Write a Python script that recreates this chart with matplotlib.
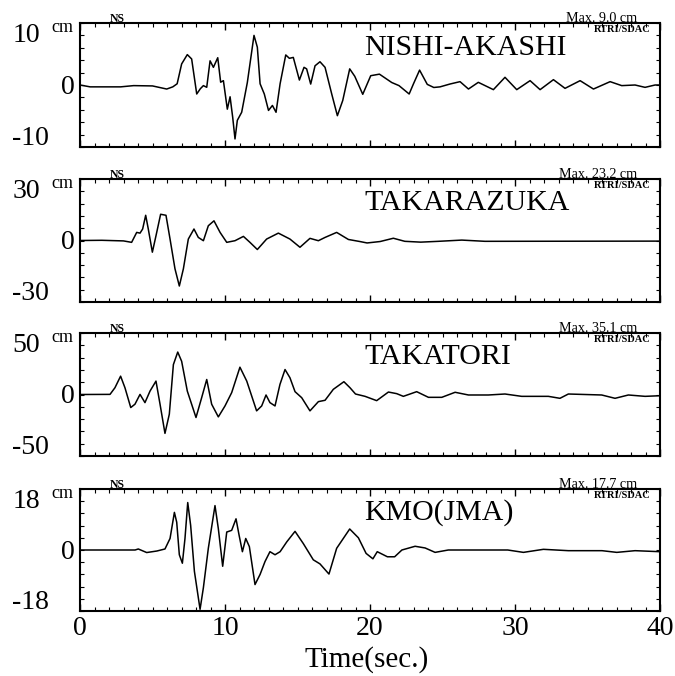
import numpy as np
import matplotlib.pyplot as plt
from matplotlib.ticker import MultipleLocator

plt.rcParams['font.family'] = ['Liberation Serif', 'DejaVu Serif']

# station info
stations = ["NISHI-AKASHI", "TAKARAZUKA", "TAKATORI", "KMO(JMA)"]
max_labels = ["Max. 9.0 cm", "Max. 23.2 cm", "Max. 35.1 cm", "Max. 17.7 cm"]
y_limits = [10, 30, 50, 18]
x_ticks = [0, 10, 20, 30, 40]

# displacement traces (time in s, displacement in cm)
nishi_akashi = [
    (0, 0), (0.7, -0.3), (2.8, -0.3), (3.7, -0.1), (5.0, -0.15), (5.98, -0.65),
    (6.4, -0.3), (6.7, 0.2), (7.01, 3.4), (7.4, 4.9), (7.7, 4.2), (8.05, -1.45),
    (8.3, -0.6), (8.51, -0.1), (8.74, -0.37), (8.97, 3.9), (9.2, 2.85), (9.5, 4.4),
    (9.7, 0.45), (9.89, 0.7), (10.16, -3.9), (10.35, -1.9), (10.53, -5.2),
    (10.69, -8.7), (10.85, -5.7), (11.15, -4.4), (11.54, 0.4), (12.0, 8.0),
    (12.23, 6.1), (12.42, 0.2), (12.71, -1.45), (13.0, -4.1), (13.27, -3.3),
    (13.52, -4.4), (13.8, 0.2), (14.19, 4.85), (14.44, 4.3), (14.71, 4.45),
    (15.13, 0.8), (15.45, 2.85), (15.63, 2.6), (15.91, 0.15), (16.21, 3.1),
    (16.55, 3.75), (16.9, 2.85), (17.36, -1.45), (17.75, -4.95), (18.12, -2.5),
    (18.6, 2.6), (18.95, 1.4), (19.5, -1.5), (20.05, 1.5), (20.65, 1.75),
    (21.5, 0.4), (22.0, -0.1), (22.7, -1.45), (23.0, 0.2), (23.42, 2.4),
    (23.95, 0.1), (24.4, -0.4), (24.83, -0.3), (25.52, 0.16), (26.21, 0.54),
    (26.79, -0.65), (27.47, 0.43), (28.51, -0.75), (29.31, 1.24), (30.12, -0.75),
    (31.04, 0.7), (31.73, -0.75), (32.65, 0.86), (33.45, -0.54), (34.49, 0.7),
    (35.41, -0.65), (36.56, 0.54), (37.36, -0.1), (38.28, 0), (38.97, -0.38),
    (39.66, 0), (40.0, 0),
]
takarazuka = [
    (0, 0), (1.5, 0.1), (3.0, -0.2), (3.56, -0.9), (3.91, 3.95), (4.14, 3.6),
    (4.32, 5.6), (4.53, 12.3), (4.71, 5.6), (4.99, -5.7), (5.24, 2.3), (5.56, 12.8),
    (5.93, 12.3), (6.21, 0.7), (6.55, -13.8), (6.85, -22.2), (7.13, -13.8),
    (7.47, 0.7), (7.86, 5.6), (8.16, 1.5), (8.51, -0.1), (8.85, 7.2), (9.24, 9.6),
    (9.66, 3.95), (10.12, -0.9), (10.69, -0.1), (11.27, 2.0), (11.72, -0.9),
    (12.23, -4.4), (12.87, 0.7), (13.68, 3.6), (14.48, 0.7), (15.17, -3.3),
    (15.86, 1.05), (16.44, -0.1), (16.9, 1.5), (17.7, 3.95), (18.51, 0.5),
    (19.3, -0.5), (19.8, -1.2), (20.7, -0.5), (21.61, 1.1), (22.4, -0.4),
    (23.5, -0.8), (24.72, -0.4), (26.33, 0.2), (27.93, -0.4), (40.0, -0.3),
]
takatori = [
    (0, 0), (2.07, 0.1), (2.41, 5.5), (2.8, 14.9), (3.1, 5.5), (3.5, -10.6),
    (3.79, -7.9), (4.14, 0.1), (4.48, -6.6), (4.83, 2.8), (5.24, 10.9), (5.52, -7.9),
    (5.86, -31.6), (6.16, -16.0), (6.44, 24.3), (6.74, 34.5), (7.01, 27.0),
    (7.4, 2.8), (8.0, -18.7), (8.39, -2.6), (8.74, 12.2), (9.08, -7.9),
    (9.54, -18.2), (10.0, -9.3), (10.46, 1.5), (11.03, 22.2), (11.5, 10.9),
    (12.18, -13.3), (12.53, -9.3), (12.83, -0.4), (13.1, -6.6), (13.45, -9.3),
    (13.79, 8.2), (14.14, 20.3), (14.48, 13.6), (14.83, 2.3), (15.29, -2.6),
    (15.86, -13.3), (16.44, -5.8), (16.9, -4.7), (17.47, 4.2), (18.2, 10.4),
    (18.62, 5.5), (19.0, 0.4), (19.66, -1.5), (20.46, -5.0), (21.27, 2.0),
    (21.84, 0.7), (22.3, -1.5), (23.22, 2.3), (24.03, -2.3), (24.95, -2.3),
    (25.87, 1.8), (26.79, -0.4), (28.16, -0.4), (29.31, 0.4), (30.46, -1.5),
    (32.3, -1.5), (33.1, -3.1), (33.68, 0.4), (35.98, -0.4), (36.9, -3.1),
    (37.82, -0.4), (38.97, -1.5), (40.0, -1.0),
]
kmo_jma = [
    (0, 0), (3.8, 0), (4.02, 0.3), (4.6, -0.75), (5.3, -0.3), (5.86, 0.3),
    (6.21, 3.4), (6.51, 11.1), (6.67, 8.2), (6.85, -1.4), (7.06, -3.9), (7.24, 3.4),
    (7.43, 14.0), (7.63, 7.3), (7.89, -6.3), (8.28, -17.5), (8.51, -11.1),
    (8.85, 0.5), (9.31, 13.1), (9.54, 6.3), (9.84, -4.8), (10.12, 5.3),
    (10.46, 5.8), (10.76, 9.2), (10.97, 4.4), (11.2, -0.5), (11.43, 3.4),
    (11.68, 1.0), (12.07, -10.2), (12.42, -7.2), (12.76, -3.4), (13.1, -0.5),
    (13.45, -1.4), (13.8, -0.5), (14.26, 2.4), (14.83, 5.5), (15.4, 1.9),
    (16.09, -2.9), (16.55, -4.1), (17.17, -7.1), (17.7, 0.5), (18.6, 6.2),
    (19.2, 3.6), (19.73, -1.0), (20.2, -2.6), (20.5, -0.5), (21.2, -2.0),
    (21.7, -2.0), (22.2, 0.0), (23.11, 1.1), (23.8, 0.6), (24.49, -0.7),
    (25.4, 0.0), (27.93, 0.0), (29.5, 0.0), (30.58, -0.7), (31.96, 0.2),
    (33.68, -0.2), (36.0, -0.2), (37.02, -0.7), (38.28, -0.2), (40.0, -0.5),
]
traces = [nishi_akashi, takarazuka, takatori, kmo_jma]

# layout in pixels of the 675x676 image: (top, bottom) of each panel
W, H = 675, 676
left_px, right_px = 80, 660
rows_px = [(23, 147), (179, 302), (333, 456), (489, 611)]

fig = plt.figure(figsize=(6.75, 6.76), dpi=100)
axes = []
for i, (name, trace) in enumerate(zip(stations, traces)):
    top, bot = rows_px[i]
    ax = fig.add_axes([left_px / W, 1 - bot / H, (right_px - left_px) / W, (bot - top) / H])
    lim = y_limits[i]
    t, v = np.array(trace).T
    ax.plot(t, v, color='black', lw=1.1)
    ax.set_xlim(0, 40)
    ax.set_ylim(-lim, lim)
    ax.set_xticks(x_ticks)
    ax.xaxis.set_minor_locator(MultipleLocator(1))
    ax.yaxis.set_major_locator(MultipleLocator(lim / 5))
    ax.tick_params(which='both', direction='in', top=True, right=True,
                   labelleft=False, labelbottom=(i == len(stations) - 1),
                   labelsize=20, pad=3.5, color='black')
    ax.tick_params(axis='x', which='major', length=5, width=1)
    ax.tick_params(axis='x', which='minor', length=3, width=0.8)
    ax.tick_params(axis='y', which='major', length=3, width=0.8)
    for s in ax.spines.values():
        s.set_linewidth(1.5)

    # y labels at the ends of the axis
    ax.text(-0.117, 1.0, f"{lim}", transform=ax.transAxes, ha='left', va='top', fontsize=20)
    ax.text(-0.117, 0.02, f"-{lim}", transform=ax.transAxes, ha='left', va='baseline', fontsize=20)
    ax.text(-0.009, 0.48, "0", transform=ax.transAxes, ha='right', va='center', fontsize=20)
    ax.text(-0.05, 1.03, "cm", transform=ax.transAxes, ha='left', va='top', fontsize=13)

    ax.text(0.052, 1.005, "NS", transform=ax.transAxes, ha='left', va='baseline',
            fontsize=8.5, fontweight='bold')
    ax.text(0.983, 0.985, "RTRI/SDAC", transform=ax.transAxes, ha='right', va='top',
            fontsize=7.5, fontweight='bold')
    ax.text(0.49, 0.745, name, transform=ax.transAxes, ha='left', va='baseline', fontsize=21.5)
    mx = ax.text(0.96, 1.012, max_labels[i], transform=ax.transAxes, ha='right',
                 va='baseline', fontsize=10.2)
    axes.append((ax, mx))

last = axes[-1][0]
last.set_xlabel("Time(sec.)", fontsize=21)
last.xaxis.label.set_va('baseline')
last.xaxis.set_label_coords(0.495, -0.46)

# underline the "Max." labels
fig.canvas.draw()
for ax, mx in axes:
    bb = mx.get_window_extent().transformed(ax.transAxes.inverted())
    ax.plot([bb.x0, bb.x1], [1.006, 1.006], transform=ax.transAxes,
            color='black', lw=0.8, clip_on=False)

fig.savefig("out.png", dpi=100)
